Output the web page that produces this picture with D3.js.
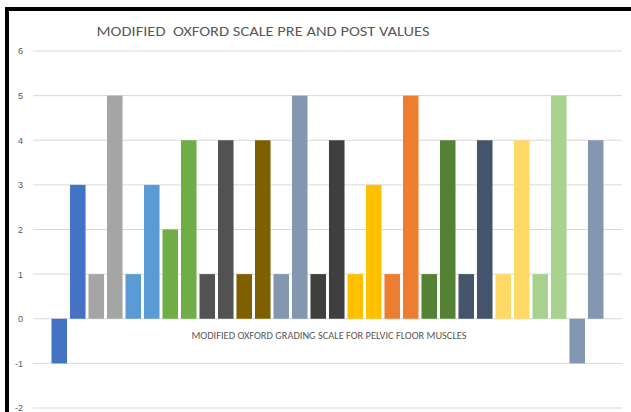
<!DOCTYPE html>
<html>
<head>
<meta charset="utf-8">
<script src="https://cdn.jsdelivr.net/npm/d3@7"></script>
<style>
  body { margin: 0; background: #fff; }
  svg { display: block; font-family: Calibri, Carlito, "Liberation Sans", Arial, sans-serif; }
</style>
</head>
<body>
<div id="chart"></div>
<script>
const title = "MODIFIED  OXFORD SCALE PRE AND POST VALUES";
const axisTitle = "MODIFIED OXFORD GRADING SCALE FOR PELVIC FLOOR MUSCLES";

// 30 bars, pre/post pairs
const values = [-1, 3, 1, 5, 1, 3, 2, 4, 1, 4, 1, 4, 1, 5, 1, 4, 1, 3, 1, 5, 1, 4, 1, 4, 1, 4, 1, 5, -1, 4];
const pairColors = ["#4472C4", "#A5A5A5", "#5B9BD5", "#70AD47", "#525252", "#7F6000", "#8497B0",
  "#3F3F3F", "#FFC000", "#ED7D31", "#548235", "#44546A", "#FFD966", "#A9D18E", "#8497B0"];
const yTicks = [-2, -1, 0, 1, 2, 3, 4, 5, 6];

const W = 631, H = 412;
const margin = {top: 51, right: 9, bottom: 4, left: 33};

const svg = d3.select("#chart").append("svg")
  .attr("width", W)
  .attr("height", H);

const x = d3.scaleBand()
  .domain(d3.range(values.length))
  .range([margin.left, W - margin.right])
  .paddingInner(0.16)
  .paddingOuter(1);

const y = d3.scaleLinear()
  .domain([-2, 6])
  .range([H - margin.bottom, margin.top]);

// gridlines
svg.append("g")
  .selectAll("line")
  .data(yTicks)
  .join("line")
  .attr("x1", margin.left)
  .attr("x2", W - margin.right)
  .attr("y1", d => y(d))
  .attr("y2", d => y(d))
  .attr("stroke", "#d9d9d9")
  .attr("stroke-width", 1);

// y axis labels (plain hyphen for negatives, like the original)
const yAxis = d3.axisLeft(y).tickValues(yTicks).tickSize(0).tickPadding(0)
  .tickFormat(d => String(d));
svg.append("g")
  .attr("transform", "translate(23,0)")
  .call(yAxis)
  .call(g => g.select(".domain").remove())
  .selectAll("text")
  .attr("fill", "#595959")
  .style("font-size", "9px");

// bars
svg.append("g")
  .selectAll("rect")
  .data(values)
  .join("rect")
  .attr("x", (d, i) => x(i))
  .attr("width", x.bandwidth())
  .attr("y", d => y(Math.max(0, d)))
  .attr("height", d => Math.abs(y(d) - y(0)))
  .attr("fill", (d, i) => pairColors[Math.floor(i / 2)]);

// category label
svg.append("text")
  .attr("x", 329)
  .attr("y", 339)
  .attr("text-anchor", "middle")
  .attr("fill", "#595959")
  .style("font-size", "9.5px")
  .attr("textLength", 275)
  .attr("lengthAdjust", "spacingAndGlyphs")
  .text(axisTitle);

// title
svg.append("text")
  .attr("x", 263)
  .attr("y", 36)
  .attr("text-anchor", "middle")
  .attr("fill", "#595959")
  .style("font-size", "14.5px")
  .attr("textLength", 333)
  .attr("lengthAdjust", "spacingAndGlyphs")
  .style("white-space", "pre")
  .text(title);

// frame
svg.append("line")
  .attr("x1", 5).attr("x2", W)
  .attr("y1", 9).attr("y2", 9)
  .attr("stroke", "#000").attr("stroke-width", 4);
svg.append("line")
  .attr("x1", 7).attr("x2", 7)
  .attr("y1", 7).attr("y2", H)
  .attr("stroke", "#000").attr("stroke-width", 4);
</script>
</body>
</html>
